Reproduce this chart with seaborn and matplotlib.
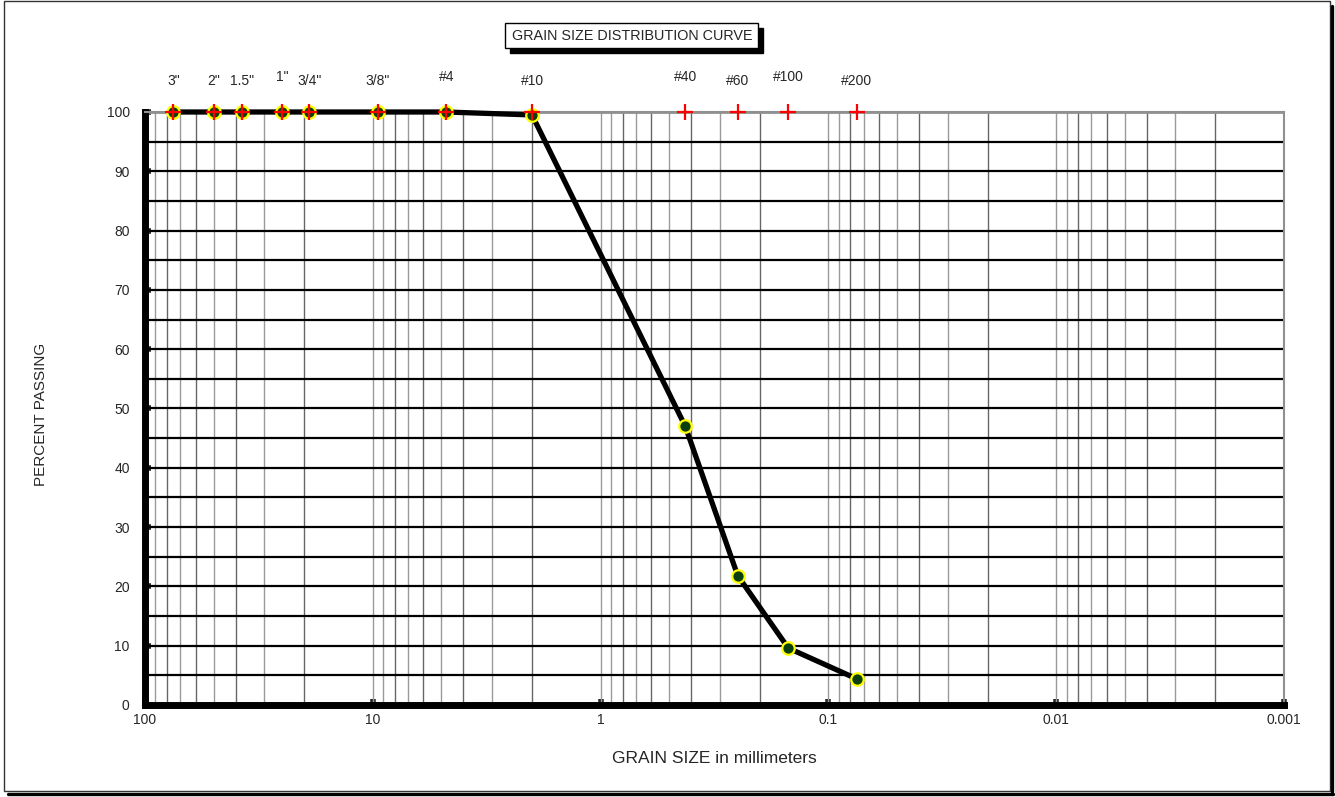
import numpy as np
import pandas as pd
import matplotlib
matplotlib.use("Agg")
import matplotlib.pyplot as plt
from matplotlib.patches import Rectangle
from matplotlib.lines import Line2D
import seaborn as sns

# sieve data
sieve_labels = ['3"', '2"', '1.5"', '1"', '3/4"', '3/8"', '#4', '#10', '#40', '#60', '#100', '#200']
sieve_mm = [75.0, 50.0, 37.5, 25.0, 19.0, 9.5, 4.75, 2.0, 0.425, 0.25, 0.15, 0.075]
percent_passing = [100, 100, 100, 100, 100, 100, 100, 99.5, 47.0, 21.8, 9.6, 4.4]
label_offsets = [0, 0, 0, 0.8, 0, 0, 0.8, 0, 0.8, 0, 0.8, 0]

x_ticks = [100, 10, 1, 0.1, 0.01, 0.001]
x_tick_labels = ["100", "10", "1", "0.1", "0.01", "0.001"]

df = pd.DataFrame({"size": sieve_mm, "passing": percent_passing, "label": sieve_labels})

sns.set_style("white")
plt.rcParams['font.family'] = ['Liberation Sans', 'DejaVu Sans']

W, H = 1335, 797
fig = plt.figure(figsize=(13.35, 7.97), dpi=100)
ax = fig.add_axes([145 / W, 1 - 705 / H, 1139 / W, 593 / H])
ax.set_zorder(2)
ax.patch.set_alpha(0)

ax.set_xscale("log")
ax.set_xlim(100, 0.001)
ax.set_ylim(0, 100)

# vertical grid lines at every log subdivision
for dec in [100, 10, 1, 0.1, 0.01]:
    for k in range(1, 10):
        v = dec * k / 10
        if v <= 0.001 or v >= 100:
            continue
        col = "#666666" if k % 2 == 0 else "#9a9a9a"
        ax.axvline(v, color=col, lw=1.0, zorder=1)

# horizontal grid lines every 5
for yv in range(5, 100, 5):
    ax.axhline(yv, color="black", lw=1.6, zorder=1)
ax.axhline(100, color="#909090", lw=2.0, zorder=1)

sns.lineplot(data=df, x="size", y="passing", sort=False, color="black", lw=3.8,
             marker="o", markersize=9, markerfacecolor="#0a4010",
             markeredgecolor="#ffff00", markeredgewidth=1.6, ax=ax, zorder=3,
             clip_on=False)

# red crosses at sieve positions
sns.scatterplot(x=sieve_mm, y=[100] * len(sieve_mm), marker="+", color="red",
                s=120, linewidth=1.6, ax=ax, zorder=4, clip_on=False)

for s, lab, off in zip(sieve_mm, sieve_labels, label_offsets):
    ax.text(s, 104.0 + off, lab, ha="center", va="bottom", fontsize=10)

ax.set_xticks(x_ticks)
ax.set_xticklabels(x_tick_labels, fontsize=10)
ax.xaxis.set_minor_locator(matplotlib.ticker.NullLocator())
ax.set_yticks(range(0, 101, 10))
ax.set_yticks(range(5, 100, 10), minor=True)
ax.tick_params(axis="y", which="major", direction="in", length=4, width=4, labelsize=10, pad=11)
ax.tick_params(axis="y", which="minor", direction="in", length=4, width=3)
ax.tick_params(axis="x", which="major", direction="in", length=4, width=4, pad=6)
ax.tick_params(left=True, bottom=True)

for sp in ["left", "bottom"]:
    ax.spines[sp].set_color("black")
    ax.spines[sp].set_linewidth(5)
for sp in ["top", "right"]:
    ax.spines[sp].set_color("#909090")
    ax.spines[sp].set_linewidth(1.5)

ax.set_xlabel("GRAIN SIZE in millimeters", fontsize=12.5, labelpad=17)
ax.set_ylabel("PERCENT PASSING", fontsize=11, labelpad=0)
ax.yaxis.set_label_coords((48 - 145) / 1139, 0.49)

# title box with shadow
fig.patches.append(Rectangle((510 / W, 1 - 53 / H), 253 / W, 25 / H, transform=fig.transFigure,
                             facecolor="black", edgecolor="black", zorder=5))
fig.patches.append(Rectangle((505 / W, 1 - 48 / H), 253 / W, 25 / H, transform=fig.transFigure,
                             facecolor="white", edgecolor="black", lw=1, zorder=6))
fig.text(632 / W, 1 - 35.5 / H, "GRAIN SIZE DISTRIBUTION CURVE", ha="center", va="center",
         fontsize=10.4, zorder=7)

# outer frame with shadow on right and bottom
fig.patches.append(Rectangle((4 / W, 1 - 791 / H), 1326 / W, 790 / H, transform=fig.transFigure,
                             facecolor="none", edgecolor="#333333", lw=1, zorder=0))
fig.lines.append(Line2D([1332 / W, 1332 / W], [1 - 794 / H, 1 - 6 / H], transform=fig.transFigure,
                        color="black", lw=2.4))
fig.lines.append(Line2D([8 / W, 1333 / W], [1 - 793.5 / H, 1 - 793.5 / H], transform=fig.transFigure,
                        color="black", lw=2.4))

fig.savefig("out.png", dpi=100)
